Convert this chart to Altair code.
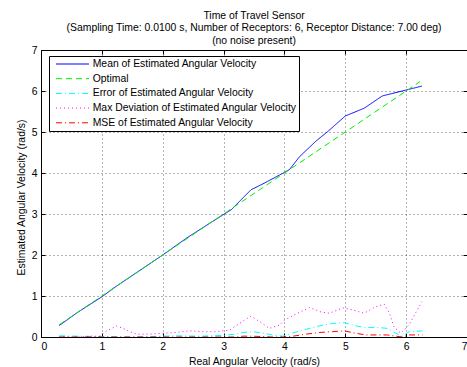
import altair as alt
import pandas as pd

FONT = "Liberation Sans"

series_names = [
    "Mean of Estimated Angular Velocity",
    "Optimal",
    "Error of Estimated Angular Velocity",
    "Max Deviation of Estimated Angular Velocity",
    "MSE of Estimated Angular Velocity",
]
series_colors = ["#0000ff", "#00ee00", "#00ffff", "#ff00ff", "#ff0000"]
series_dashes = [[1, 0], [6, 4], [6, 3, 1, 3], [1, 3], [6, 3, 1, 3]]

x_mean = [0.3, 0.6, 1.0, 1.24, 1.6, 2.0, 2.4, 2.8, 3.13, 3.45, 3.64, 3.92, 4.08,
          4.25, 4.52, 4.71, 5.0, 5.31, 5.61, 5.99, 6.26]
y_mean = [0.28, 0.6, 0.98, 1.24, 1.6, 2.0, 2.42, 2.8, 3.11, 3.59, 3.73, 3.95, 4.08,
          4.40, 4.78, 5.01, 5.39, 5.58, 5.88, 6.02, 6.12]

x_opt = [0.3, 6.23]
y_opt = [0.3, 6.23]

x_err = [0.3, 0.6, 1.0, 1.4, 1.8, 2.2, 2.6, 3.0, 3.2, 3.32, 3.48, 3.64, 3.8, 3.97,
         4.14, 4.36, 4.57, 4.79, 4.98, 5.18, 5.34, 5.56, 5.69, 5.83, 5.94, 6.05, 6.27]
y_err = [0.03, 0.02, 0.01, 0.0, 0.01, 0.03, 0.02, 0.04, 0.07, 0.11, 0.13, 0.10, 0.05, 0.02,
         0.10, 0.19, 0.27, 0.33, 0.35, 0.27, 0.23, 0.23, 0.21, 0.09, 0.02, 0.13, 0.15]

x_dev = [0.3, 0.6, 0.83, 0.97, 1.08, 1.24, 1.35, 1.46, 1.57, 1.79, 2.0, 2.22, 2.44,
         2.66, 2.88, 3.1, 3.26, 3.45, 3.62, 3.75, 3.92, 4.0, 4.19, 4.41, 4.6, 4.74,
         4.96, 5.12, 5.31, 5.5, 5.64, 5.72, 5.8, 5.91, 6.05, 6.16, 6.26]
y_dev = [0.0, 0.0, 0.02, 0.02, 0.15, 0.27, 0.21, 0.13, 0.07, 0.07, 0.09, 0.11, 0.15,
         0.13, 0.13, 0.17, 0.33, 0.51, 0.35, 0.21, 0.29, 0.41, 0.56, 0.72, 0.61, 0.58,
         0.71, 0.66, 0.58, 0.74, 0.80, 0.60, 0.25, 0.09, 0.30, 0.60, 0.86]

x_mse = x_err
y_mse = [0.0, 0.0, 0.0, 0.0, 0.0, 0.0, 0.0, 0.0, 0.0, 0.02, 0.02, 0.01, 0.0, 0.0,
         0.02, 0.07, 0.11, 0.13, 0.15, 0.09, 0.05, 0.05, 0.05, 0.02, 0.0, 0.05, 0.05]

title_lines = [
    "Time of Travel Sensor",
    "(Sampling Time: 0.0100 s, Number of Receptors: 6, Receptor Distance: 7.00 deg)",
    "(no noise present)",
]
x_ticks = [0, 1, 2, 3, 4, 5, 6, 7]
y_ticks = [0, 1, 2, 3, 4, 5, 6, 7]

rows = []
for name, xs, ys in zip(series_names,
                        [x_mean, x_opt, x_err, x_dev, x_mse],
                        [y_mean, y_opt, y_err, y_dev, y_mse]):
    for xv, yv in zip(xs, ys):
        rows.append({"series": name, "x": xv, "y": yv})
df = pd.DataFrame(rows)

legend = alt.Legend(
    title=None, orient="none", legendX=8, legendY=6,
    strokeColor="black", fillColor="white", padding=2,
    symbolType="M-3,0H3", symbolSize=121, symbolStrokeWidth=1,
    symbolOffset=15.5, labelOffset=14.2, rowPadding=2.7,
    labelFont=FONT, labelFontSize=10.4, labelColor="black",
    labelLimit=400, cornerRadius=0,
)

xscale = alt.Scale(domain=[0, 7], nice=False)
yscale = alt.Scale(domain=[0, 7], nice=False)

lines = alt.Chart(df).mark_line(strokeWidth=1, clip=True).encode(
    x=alt.X("x:Q", scale=xscale,
            axis=alt.Axis(values=x_ticks, title="Real Angular Velocity (rad/s)",
                          format="d", orient="bottom", offset=-4, ticks=True, tickSize=4,
                          labelPadding=4, titlePadding=5)),
    y=alt.Y("y:Q", scale=yscale,
            axis=alt.Axis(values=y_ticks, title="Estimated Angular Velocity (rad/s)",
                          format="d", orient="left", offset=-4, ticks=True, tickSize=4,
                          labelPadding=4, titleX=-23.3, titleY=147, titleBaseline="middle",
                          titleAngle=-90)),
    color=alt.Color("series:N", scale=alt.Scale(domain=series_names, range=series_colors),
                    legend=legend),
    strokeDash=alt.StrokeDash("series:N", scale=alt.Scale(domain=series_names, range=series_dashes),
                              legend=legend),
)

frame_ticks = alt.Chart(df).mark_line(opacity=0).encode(
    x=alt.X("x:Q", scale=xscale,
            axis=alt.Axis(values=x_ticks, title=None, orient="top", offset=-4, ticks=True,
                          tickSize=4, labels=False, grid=False)),
    y=alt.Y("y:Q", scale=yscale,
            axis=alt.Axis(values=y_ticks, title=None, orient="right", offset=-4, ticks=True,
                          tickSize=4, labels=False, grid=False)),
    detail="series:N",
)

chart = alt.layer(lines, frame_ticks).resolve_axis(
    x="independent", y="independent"
).properties(
    width=426, height=287,
    padding={"left": 41, "top": 50, "right": 0, "bottom": 30},
    autosize=alt.AutoSizeParams(type="none"),
    title=alt.TitleParams(title_lines, font=FONT, fontSize=10.4, fontWeight="normal",
                          color="black", anchor="middle", offset=-1, lineHeight=12.5),
    background="white",
).configure_view(
    stroke="black", strokeWidth=1,
).configure_axis(
    labelFont=FONT, labelFontSize=10.4, labelColor="black",
    titleFont=FONT, titleFontSize=10.4, titleFontWeight="normal", titleColor="black",
    grid=True, gridColor="black", gridDash=[1, 3], gridOpacity=0.6, gridWidth=1,
    domain=False, tickColor="black", tickWidth=1,
)

chart.save("out.html", embed_options={"renderer": "svg", "actions": False})
